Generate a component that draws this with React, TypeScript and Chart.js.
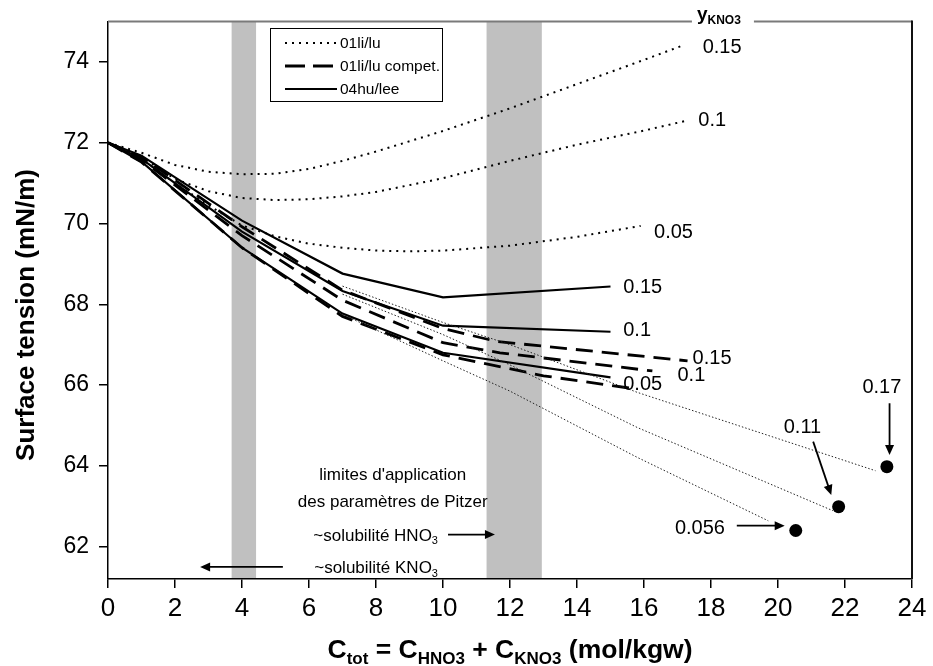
import React, { useEffect, useRef } from 'react';
import { Chart, registerables } from 'chart.js';

Chart.register(...registerables);

const FONT = "'Liberation Sans', Arial, Helvetica, sans-serif";

// ---- axes ----
const X_MIN = 0;
const X_MAX = 24;
const Y_MIN = 61.2;
const Y_MAX = 75;
const xTickValues = [0, 2, 4, 6, 8, 10, 12, 14, 16, 18, 20, 22, 24];
const yTickValues = [62, 64, 66, 68, 70, 72, 74];

// ---- 01li/lu (dotted) ----
const li015X = [0, 1, 2, 3, 4, 5, 6, 7, 8, 10, 12, 14, 16, 17.2];
const li015Y = [72, 71.75, 71.45, 71.28, 71.22, 71.23, 71.35, 71.55, 71.78, 72.29, 72.85, 73.45, 74.05, 74.42];
const li010X = [0, 1, 2, 3, 4, 5, 6, 7, 8, 10, 12, 14, 16, 17.3];
const li010Y = [72, 71.65, 71.1, 70.8, 70.63, 70.58, 70.6, 70.67, 70.78, 71.12, 71.55, 71.95, 72.3, 72.55];
const li005X = [0, 1, 2, 3, 4, 5, 6, 7, 8, 9, 10, 12, 14, 15.9];
const li005Y = [72, 71.6, 71.0, 70.45, 69.95, 69.68, 69.5, 69.4, 69.33, 69.31, 69.33, 69.45, 69.67, 69.94];

// ---- 01li/lu compet. (dashed) ----
const co015X = [0, 1, 4, 7, 10, 11.6, 17.3];
const co015Y = [72, 71.65, 69.92, 68.35, 67.4, 67.08, 66.6];
const co010X = [0, 1, 4, 7, 10, 11.7, 16.25];
const co010Y = [72, 71.58, 69.7, 68.1, 67.05, 66.8, 66.35];
const co005X = [0, 1, 4, 7, 10, 13, 15.7];
const co005Y = [72, 71.52, 69.4, 67.7, 66.75, 66.23, 65.91];

// ---- 04hu/lee (solid) ----
const huX = [0, 1, 4, 7, 10, 15];
const hu015Y = [72, 71.68, 70.07, 68.76, 68.17, 68.44];
const hu010Y = [72, 71.6, 69.8, 68.33, 67.47, 67.32];
const hu005Y = [72, 71.53, 69.4, 67.77, 66.8, 66.19];

// ---- thin dotted extrapolations to measured points ----
const ex017X = [7, 10, 12, 15.8, 22.91];
const ex017Y = [68.45, 67.55, 67.0, 65.82, 63.88];
const ex011X = [7, 10, 12, 15.8, 21.64];
const ex011Y = [68.25, 67.25, 66.5, 64.95, 62.89];
const ex0056X = [7, 10, 12, 15.8, 19.71];
const ex0056Y = [67.75, 66.6, 65.85, 64.21, 62.64];

// ---- measured points ----
const dotX = [23.25, 21.81, 20.53];
const dotY = [63.98, 62.99, 62.4];
const dotText = ['0.17', '0.11', '0.056'];
const dotLabelX = [23.1, 20.73, 17.67];
const dotLabelY = [65.93, 64.94, 62.46];
const dotArrowX1 = [23.33, 21.05, 18.77];
const dotArrowY1 = [65.55, 64.6, 62.52];
const dotArrowX2 = [23.33, 21.59, 20.2];
const dotArrowY2 = [64.27, 63.28, 62.52];

// ---- y_KNO3 labels at line ends ----
const lineLabelText = ['0.15', '0.1', '0.05', '0.15', '0.1', '0.15', '0.1', '0.05'];
const lineLabelX = [17.75, 17.62, 16.3, 15.38, 15.38, 17.45, 17.0, 15.38];
const lineLabelY = [74.36, 72.54, 69.77, 68.42, 67.34, 66.65, 66.25, 66.02];

// ---- shaded solubility bands ----
const bandStart = [3.69, 11.3];
const bandEnd = [4.42, 12.95];

// ---- text notes ----
const noteLine1 = "limites d'application";
const noteLine2 = 'des paramètres de Pitzer';
const noteX = 8.5;
const noteY = [63.77, 63.1];
const solText = ['~solubilité HNO', '~solubilité KNO'];
const solSub = ['3', '3'];
const solRightX = 9.85;
const solY = [62.3, 61.5];
const solArrowX1 = [10.15, 5.22];
const solArrowX2 = [11.55, 2.75];

const legendNames = ['01li/lu', '01li/lu compet.', '04hu/lee'];
const headerX = 17.58;

const pts = (xs: number[], ys: number[]) => xs.map((x, i) => ({ x, y: ys[i] }));

const DOT = [2, 5];
const DASH = [17, 9];

function drawRich(ctx: any, parts: [string, boolean][], x: number, y: number, size: number, subSize: number, bold: boolean, align: string) {
  const fm = `${bold ? 'bold ' : ''}${size}px ${FONT}`;
  const fs = `${bold ? 'bold ' : ''}${subSize}px ${FONT}`;
  let w = 0;
  for (const [t, s] of parts) {
    ctx.font = s ? fs : fm;
    w += ctx.measureText(t).width;
  }
  let cx = align === 'left' ? x : align === 'center' ? x - w / 2 : x - w;
  ctx.textAlign = 'left';
  ctx.textBaseline = 'alphabetic';
  for (const [t, s] of parts) {
    ctx.font = s ? fs : fm;
    ctx.fillText(t, cx, s ? y + size * 0.22 : y);
    cx += ctx.measureText(t).width;
  }
}

function arrow(ctx: any, x1: number, y1: number, x2: number, y2: number) {
  const ang = Math.atan2(y2 - y1, x2 - x1);
  const L = 10;
  const W = 4.5;
  ctx.beginPath();
  ctx.moveTo(x1, y1);
  ctx.lineTo(x2 - Math.cos(ang) * L * 0.8, y2 - Math.sin(ang) * L * 0.8);
  ctx.lineWidth = 1.8;
  ctx.strokeStyle = '#000';
  ctx.setLineDash([]);
  ctx.stroke();
  ctx.beginPath();
  ctx.moveTo(x2, y2);
  ctx.lineTo(x2 - Math.cos(ang) * L - Math.sin(ang) * W, y2 - Math.sin(ang) * L + Math.cos(ang) * W);
  ctx.lineTo(x2 - Math.cos(ang) * L + Math.sin(ang) * W, y2 - Math.sin(ang) * L - Math.cos(ang) * W);
  ctx.closePath();
  ctx.fillStyle = '#000';
  ctx.fill();
}

const overlay = {
  id: 'overlay',
  beforeDatasetsDraw(chart: any) {
    const { ctx, chartArea: a, scales } = chart;
    const xs = scales.x;
    ctx.save();
    ctx.fillStyle = '#c0c0c0';
    bandStart.forEach((s, i) => {
      const x1 = xs.getPixelForValue(s);
      const x2 = xs.getPixelForValue(bandEnd[i]);
      ctx.fillRect(x1, a.top, x2 - x1, a.bottom - a.top - 1);
    });
    ctx.restore();
  },
  afterDraw(chart: any) {
    const { ctx, chartArea: a, scales } = chart;
    const xs = scales.x;
    const ys = scales.y;
    const px = (v: number) => xs.getPixelForValue(v);
    const py = (v: number) => ys.getPixelForValue(v);
    ctx.save();

    // frame: top (grey) and right
    ctx.setLineDash([]);
    ctx.strokeStyle = '#7a7a7a';
    ctx.lineWidth = 2;
    ctx.beginPath();
    ctx.moveTo(a.left, a.top);
    ctx.lineTo(a.right, a.top);
    ctx.stroke();
    ctx.strokeStyle = '#111';
    ctx.beginPath();
    ctx.moveTo(a.right, a.top - 1);
    ctx.lineTo(a.right, a.bottom);
    ctx.stroke();

    // x tick labels
    ctx.fillStyle = '#000';
    ctx.font = `26px ${FONT}`;
    ctx.textAlign = 'center';
    ctx.textBaseline = 'middle';
    xTickValues.forEach((v) => ctx.fillText(String(v), px(v), a.bottom + 30));

    // header y_KNO3
    const hx = px(headerX);
    ctx.fillStyle = '#fff';
    ctx.fillRect(hx - 5, a.top - 4, 62, 8);
    ctx.fillStyle = '#000';
    drawRich(ctx, [['y', false], ['KNO3', true]], hx, a.top - 2, 19, 12, true, 'left');

    // legend
    const lx = 270.5, ly = 28.5, lw = 172, lh = 73;
    ctx.fillStyle = '#fff';
    ctx.fillRect(lx, ly, lw, lh);
    ctx.strokeStyle = '#000';
    ctx.lineWidth = 1;
    ctx.strokeRect(lx, ly, lw, lh);
    const rowY = [43, 66, 89];
    const rowDash = [DOT, [20, 8], []];
    const rowW = [2, 2.8, 2.2];
    rowY.forEach((y, i) => {
      ctx.beginPath();
      ctx.setLineDash(rowDash[i]);
      ctx.lineWidth = rowW[i];
      ctx.moveTo(285, y);
      ctx.lineTo(337, y);
      ctx.stroke();
      ctx.setLineDash([]);
      ctx.font = `15.5px ${FONT}`;
      ctx.fillStyle = '#000';
      ctx.textAlign = 'left';
      ctx.textBaseline = 'middle';
      ctx.fillText(legendNames[i], 340, y + 1);
    });

    // line-end labels
    ctx.font = `20px ${FONT}`;
    ctx.fillStyle = '#000';
    ctx.textAlign = 'left';
    ctx.textBaseline = 'middle';
    lineLabelText.forEach((t, i) => ctx.fillText(t, px(lineLabelX[i]), py(lineLabelY[i])));

    // dot labels & arrows
    dotText.forEach((t, i) => {
      ctx.font = `20px ${FONT}`;
      ctx.fillStyle = '#000';
      ctx.textAlign = 'center';
      ctx.textBaseline = 'middle';
      ctx.fillText(t, px(dotLabelX[i]), py(dotLabelY[i]));
      arrow(ctx, px(dotArrowX1[i]), py(dotArrowY1[i]), px(dotArrowX2[i]), py(dotArrowY2[i]));
    });

    // notes
    ctx.fillStyle = '#000';
    ctx.font = `17px ${FONT}`;
    ctx.textAlign = 'center';
    ctx.textBaseline = 'middle';
    ctx.fillText(noteLine1, px(noteX), py(noteY[0]));
    ctx.fillText(noteLine2, px(noteX), py(noteY[1]));
    solText.forEach((t, i) => {
      ctx.fillStyle = '#000';
      drawRich(ctx, [[t, false], [solSub[i], true]], px(solRightX), py(solY[i]) + 6, 17, 11, false, 'right');
      arrow(ctx, px(solArrowX1[i]), py(solY[i]), px(solArrowX2[i]), py(solY[i]));
    });

    // axis titles
    ctx.fillStyle = '#000';
    ctx.save();
    ctx.translate(27, 315);
    ctx.rotate(-Math.PI / 2);
    ctx.font = `bold 26px ${FONT}`;
    ctx.textAlign = 'center';
    ctx.textBaseline = 'middle';
    ctx.fillText('Surface tension (mN/m)', 0, 0);
    ctx.restore();

    drawRich(
      ctx,
      [['C', false], ['tot', true], [' = C', false], ['HNO3', true], [' + C', false], ['KNO3', true], [' (mol/kgw)', false]],
      (a.left + a.right) / 2,
      658,
      26.5,
      17,
      true,
      'center'
    );

    ctx.restore();
  },
};

export default function App() {
  const ref = useRef<HTMLCanvasElement>(null);
  useEffect(() => {
    const canvas = ref.current;
    if (!canvas) return;
    const dotted = { borderColor: '#000', borderWidth: 2, borderDash: DOT, pointRadius: 0, showLine: true, fill: false };
    const dashed = { borderColor: '#000', borderWidth: 2.8, borderDash: DASH, pointRadius: 0, showLine: true, fill: false };
    const solid = { borderColor: '#000', borderWidth: 2.2, pointRadius: 0, showLine: true, fill: false };
    const thin = { borderColor: '#222', borderWidth: 1, borderDash: [1.5, 2], pointRadius: 0, showLine: true, fill: false };
    const chart = new Chart(canvas, {
      type: 'scatter',
      data: {
        datasets: [
          { label: '01li/lu 0.15', data: pts(li015X, li015Y), ...dotted },
          { label: '01li/lu 0.1', data: pts(li010X, li010Y), ...dotted },
          { label: '01li/lu 0.05', data: pts(li005X, li005Y), ...dotted },
          { label: 'ext 0.17', data: pts(ex017X, ex017Y), ...thin },
          { label: 'ext 0.11', data: pts(ex011X, ex011Y), ...thin },
          { label: 'ext 0.056', data: pts(ex0056X, ex0056Y), ...thin },
          { label: 'compet 0.15', data: pts(co015X, co015Y), ...dashed },
          { label: 'compet 0.1', data: pts(co010X, co010Y), ...dashed },
          { label: 'compet 0.05', data: pts(co005X, co005Y), ...dashed },
          { label: '04hu/lee 0.15', data: pts(huX, hu015Y), ...solid },
          { label: '04hu/lee 0.1', data: pts(huX, hu010Y), ...solid },
          { label: '04hu/lee 0.05', data: pts(huX, hu005Y), ...solid },
          {
            label: 'measured',
            data: pts(dotX, dotY),
            showLine: false,
            pointRadius: 6.5,
            pointBackgroundColor: '#000',
            pointBorderWidth: 0,
            borderColor: '#000',
          },
        ] as any,
      },
      options: {
        responsive: true,
        maintainAspectRatio: false,
        animation: false,
        layout: { padding: { top: 21, right: 21, left: 0, bottom: 0 } },
        plugins: { legend: { display: false }, tooltip: { enabled: false } },
        scales: {
          x: {
            type: 'linear',
            min: X_MIN,
            max: X_MAX,
            afterBuildTicks: (s: any) => {
              s.ticks = xTickValues.map((v) => ({ value: v }));
            },
            ticks: { display: false },
            grid: { drawOnChartArea: false, drawTicks: true, tickLength: 9, color: '#000', lineWidth: 1.5 },
            border: { display: true, color: '#000', width: 1.5 },
            afterFit: (s: any) => {
              s.height = 87;
            },
          },
          y: {
            type: 'linear',
            min: Y_MIN,
            max: Y_MAX,
            ticks: { color: '#000', font: { family: FONT, size: 23, lineHeight: 1 }, padding: 10 },
            afterBuildTicks: (s: any) => {
              s.ticks = yTickValues.map((v) => ({ value: v }));
            },
            grid: { drawOnChartArea: false, drawTicks: true, tickLength: 9, color: '#000', lineWidth: 1.5 },
            border: { display: true, color: '#000', width: 1.5 },
            afterFit: (s: any) => {
              s.width = 108;
            },
          },
        },
      } as any,
      plugins: [overlay],
    });
    return () => chart.destroy();
  }, []);
  return (
    <div style={{ position: 'fixed', left: 0, top: 0, width: 933, height: 666, background: '#fff' }}>
      <canvas ref={ref} />
    </div>
  );
}
